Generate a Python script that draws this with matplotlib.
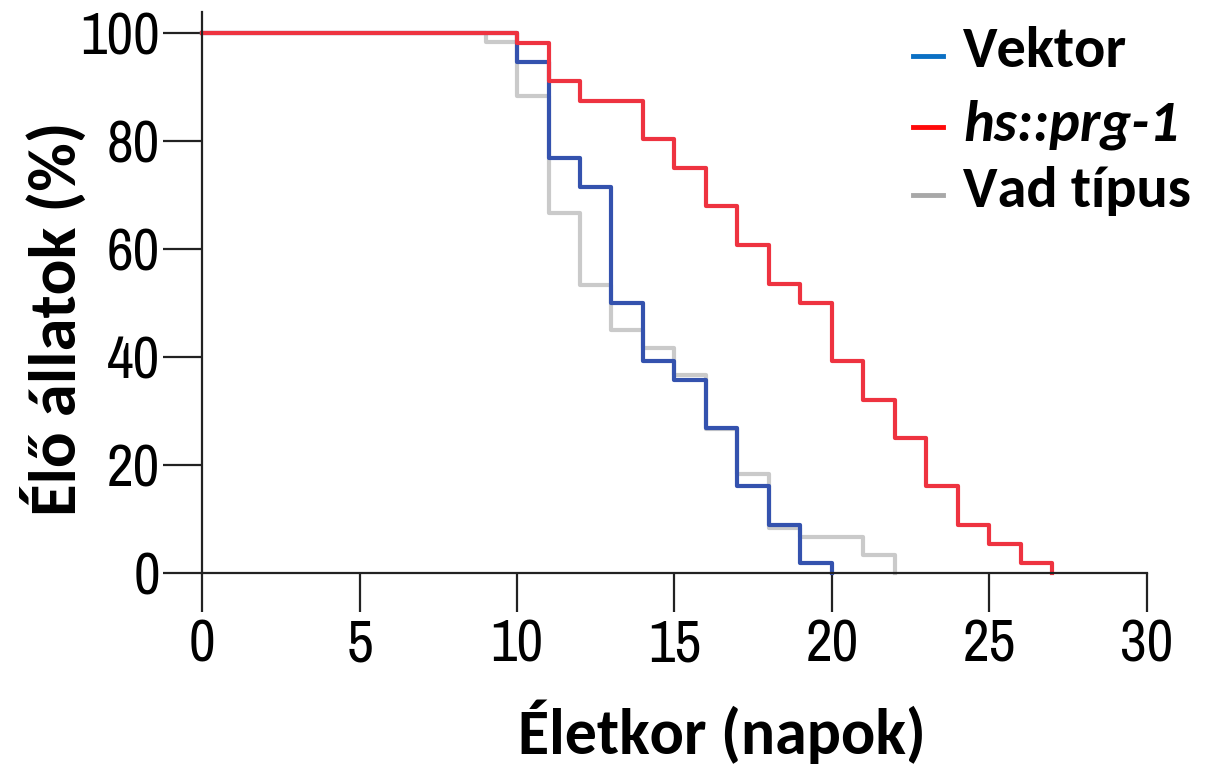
import matplotlib
matplotlib.use("Agg")
import matplotlib.pyplot as plt
from matplotlib.lines import Line2D
from matplotlib import font_manager as fm

# survival data (step curves), days / % alive
days_vektor = [0, 10, 11, 12, 13, 14, 15, 16, 17, 18, 19, 20]
alive_vektor = [100, 94.6, 76.8, 71.4, 50, 39.3, 35.7, 26.8, 16.1, 8.9, 1.8, 0]

days_prg1 = [0, 10, 11, 12, 14, 15, 16, 17, 18, 19, 20, 21, 22, 23, 24, 25, 26, 27]
alive_prg1 = [100, 98.2, 91.1, 87.5, 80.4, 75, 67.9, 60.7, 53.6, 50, 39.3, 32.1, 25,
              16.1, 8.9, 5.4, 1.8, 0]

days_wt = [0, 9, 10, 11, 12, 13, 14, 15, 16, 17, 18, 19, 21, 22]
alive_wt = [100, 98.3, 88.3, 66.7, 53.3, 45, 41.7, 36.7, 26.7, 18.3, 8.3, 6.7, 3.3, 0]

legend_labels = ["Vektor", "hs::prg-1", "Vad típus"]
xticks = [0, 5, 10, 15, 20, 25, 30]
yticks = [0, 20, 40, 60, 80, 100]

installed = {f.name for f in fm.fontManager.ttflist}
def pick(*names):
    return [n for n in names if n in installed] + ["DejaVu Sans"]

narrow = pick("Liberation Sans Narrow", "Archivo Narrow")
bold_font = pick("Carlito", "Lato")
is_carlito = bold_font[0] == "Carlito"

fig = plt.figure(figsize=(12.14, 7.84), dpi=100)
ax = fig.add_axes([0.1664, 0.2691, 0.7784, 0.7156])

ax.step(days_wt, alive_wt, where="post", color="#CACACA", lw=3, clip_on=False)
ax.step(days_vektor, alive_vektor, where="post", color="#3452AE", lw=3, clip_on=False)
ax.step(days_prg1, alive_prg1, where="post", color="#EE3340", lw=3, clip_on=False)

ax.set_xlim(0, 30)
ax.set_ylim(0, 103.9)
ax.spines["top"].set_visible(False)
ax.spines["right"].set_visible(False)
for s in ["left", "bottom"]:
    ax.spines[s].set_linewidth(1.6)
    ax.spines[s].set_color("#222222")

ax.set_xticks(xticks)
ax.set_yticks(yticks)
ax.tick_params(axis="both", direction="out", length=28, width=1.6, color="#222222",
               labelsize=42)
ax.tick_params(axis="y", pad=2)
ax.tick_params(axis="x", pad=5)
for lab in ax.get_xticklabels() + ax.get_yticklabels():
    lab.set_family(narrow)

lab_size = 46 if is_carlito else 42
fig.text(0.595, 0.025, "Életkor (napok)", family=bold_font, weight="bold",
         fontsize=lab_size, ha="center", va="bottom")
fig.text(0.044, 0.594, "Élő állatok (%)", family=bold_font, weight="bold",
         fontsize=lab_size + 2, ha="center", va="center", rotation=90)

# legend drawn by hand in figure coordinates
leg_colors = ["#0B70C4", "#FF0A0A", "#A8A8A8"]
leg_y = [56, 127, 195]
base_y = [67, 140, 207]
leg_size = 42 if is_carlito else 39
for lab, c, yl, yb in zip(legend_labels, leg_colors, leg_y, base_y):
    fig.add_artist(Line2D([913 / 1214, 943 / 1214], [1 - yl / 784, 1 - yl / 784],
                          color=c, lw=3.5, transform=fig.transFigure))
    fig.text(963 / 1214, 1 - yb / 784, lab, family=bold_font, weight="bold",
             style="italic" if lab.startswith("hs") else "normal",
             fontsize=leg_size, ha="left", va="baseline")

fig.savefig("out.png", dpi=100)
